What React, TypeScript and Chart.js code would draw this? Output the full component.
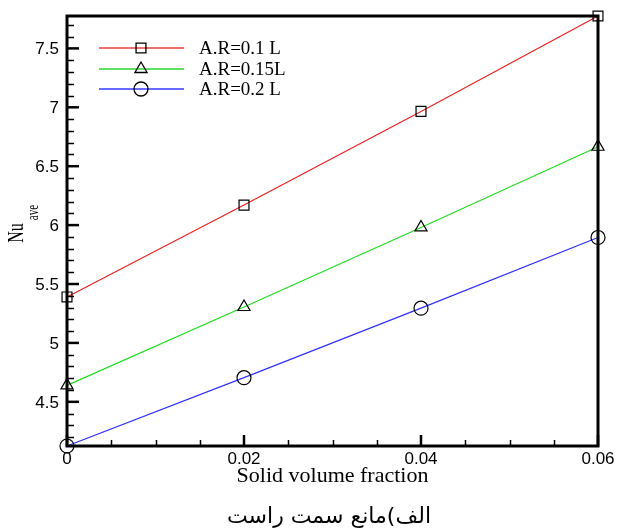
import React, { useEffect, useRef } from "react";
import { Chart, registerables } from "chart.js";

Chart.register(...registerables);

const xValues = [0, 0.02, 0.04, 0.06];
const seriesLabels = ["A.R=0.1 L", "A.R=0.15L", "A.R=0.2 L"];
const ar01 = [5.39, 6.17, 6.965, 7.775];
const ar015 = [4.64, 5.305, 5.98, 6.665];
const ar02 = [4.125, 4.705, 5.295, 5.895];
const seriesColors = ["#ee2020", "#20dd20", "#3030ff"];
const legendColors = ["#f07070", "#60e060", "#6a6aff"];
const seriesMarkers = ["rect", "triangle", "circle"];
const yMajorTicks = [4.5, 5, 5.5, 6, 6.5, 7, 7.5];
const yTickLabels = ["4.5", "5", "5.5", "6", "6.5", "7", "7.5"];
const xMajorTicks = [0, 0.02, 0.04, 0.06];
const xTickLabels = ["0", "0.02", "0.04", "0.06"];
const xTitle = "Solid volume fraction";
const yTitle = "Nu";
const yTitleSub = "ave";
const caption = "الف)مانع سمت راست";

const Y_MIN = 4.125;
const Y_MAX = 7.775;

function drawMarker(ctx: CanvasRenderingContext2D, style: string, x: number, y: number, r: number) {
  ctx.beginPath();
  if (style === "rect") {
    const s = Math.SQRT1_2 * r;
    ctx.rect(x - s, y - s, 2 * s, 2 * s);
  } else if (style === "triangle") {
    ctx.moveTo(x, y - r);
    ctx.lineTo(x + r * Math.cos(Math.PI / 6), y + r / 2);
    ctx.lineTo(x - r * Math.cos(Math.PI / 6), y + r / 2);
    ctx.closePath();
  } else {
    ctx.arc(x, y, r, 0, Math.PI * 2);
  }
  ctx.stroke();
}

const framePlugin = {
  id: "framePlugin",
  afterDraw(chart: any) {
    const ctx: CanvasRenderingContext2D = chart.ctx;
    const { left, right, top, bottom } = chart.chartArea;
    const xs = chart.scales.x;
    const ys = chart.scales.y;
    ctx.save();
    ctx.strokeStyle = "#000";
    // minor ticks y
    ctx.lineWidth = 1.5;
    for (let v = 4.2; v < Y_MAX; v += 0.1) {
      const vv = Math.round(v * 10) / 10;
      if (Math.abs(vv * 2 - Math.round(vv * 2)) < 1e-6) continue;
      const py = Math.round(ys.getPixelForValue(vv)) + 0.5;
      ctx.beginPath();
      ctx.moveTo(left, py);
      ctx.lineTo(left + 7, py);
      ctx.stroke();
    }
    // minor ticks x
    for (let i = 1; i < 12; i++) {
      if (i % 4 === 0) continue;
      const px = Math.round(xs.getPixelForValue(i * 0.005)) + 0.5;
      ctx.beginPath();
      ctx.moveTo(px, bottom);
      ctx.lineTo(px, bottom - 6);
      ctx.stroke();
    }
    // major ticks
    ctx.lineWidth = 2.5;
    yMajorTicks.forEach((v) => {
      const py = ys.getPixelForValue(v);
      ctx.beginPath();
      ctx.moveTo(left, py);
      ctx.lineTo(left + 12, py);
      ctx.stroke();
    });
    xMajorTicks.forEach((v) => {
      const px = xs.getPixelForValue(v);
      ctx.beginPath();
      ctx.moveTo(px, bottom);
      ctx.lineTo(px, bottom - 11);
      ctx.stroke();
    });
    // frame
    ctx.lineWidth = 3;
    ctx.strokeRect(left, top, right - left, bottom - top);

    // tick labels
    ctx.fillStyle = "#000";
    ctx.font = "17px 'Liberation Sans', Arial, sans-serif";
    ctx.textAlign = "right";
    ctx.textBaseline = "middle";
    yMajorTicks.forEach((v, i) => {
      ctx.fillText(yTickLabels[i], left - 8, ys.getPixelForValue(v) + 1);
    });
    ctx.textAlign = "center";
    ctx.textBaseline = "top";
    xMajorTicks.forEach((v, i) => {
      ctx.fillText(xTickLabels[i], xs.getPixelForValue(v), bottom + 5);
    });

    // x title
    ctx.font = "22px 'Liberation Serif', 'Times New Roman', serif";
    ctx.textBaseline = "middle";
    ctx.fillText(xTitle, (left + right) / 2, bottom + 30);

    // y title
    ctx.save();
    ctx.translate(17, 233);
    ctx.rotate(-Math.PI / 2);
    ctx.scale(1, 1.5);
    ctx.textAlign = "center";
    ctx.textBaseline = "middle";
    ctx.font = "16px 'Liberation Serif', 'Times New Roman', serif";
    ctx.fillText(yTitle, 0, 0);
    const w = ctx.measureText(yTitle).width;
    ctx.font = "11px 'Liberation Serif', 'Times New Roman', serif";
    ctx.textAlign = "left";
    ctx.fillText(yTitleSub, w / 2 + 3, 11);
    ctx.restore();

    // caption
    ctx.font = "22px 'DejaVu Sans', 'Noto Sans', serif";
    ctx.textAlign = "center";
    ctx.textBaseline = "middle";
    ctx.direction = "rtl";
    ctx.fillText(caption, 329, 517);
    ctx.direction = "ltr";

    // legend
    const legendY = [48, 69, 89];
    chart.data.datasets.forEach((ds: any, i: number) => {
      const y = legendY[i];
      ctx.strokeStyle = legendColors[i];
      ctx.lineWidth = 2;
      ctx.beginPath();
      ctx.moveTo(99, y);
      ctx.lineTo(184, y);
      ctx.stroke();
      ctx.strokeStyle = "#000";
      ctx.lineWidth = 1.3;
      drawMarker(ctx, ds.pointStyle, 141, y, 7);
      ctx.fillStyle = "#000";
      ctx.font = "19px 'Liberation Serif', 'Times New Roman', serif";
      ctx.textAlign = "left";
      ctx.textBaseline = "middle";
      ctx.fillText(ds.label, 199, y + 1);
    });
    ctx.restore();
  },
};

export default function App() {
  const ref = useRef<HTMLCanvasElement | null>(null);
  useEffect(() => {
    if (!ref.current) return;
    const allSeries = [ar01, ar015, ar02];
    const chart = new Chart(ref.current, {
      type: "line",
      data: {
        datasets: allSeries.map((vals, i) => ({
          label: seriesLabels[i],
          data: xValues.map((x, j) => ({ x, y: vals[j] })),
          borderColor: seriesColors[i],
          borderWidth: 1.2,
          pointStyle: seriesMarkers[i] as any,
          pointRadius: 7,
          pointBorderColor: "#000",
          pointBorderWidth: 1.2,
          pointBackgroundColor: "rgba(0,0,0,0)",
          tension: 0,
          clip: false as any,
          fill: false,
        })),
      },
      options: {
        responsive: false,
        animation: false,
        layout: { padding: { left: 67, right: 21, top: 16, bottom: 86 } },
        plugins: { legend: { display: false }, tooltip: { enabled: false } },
        scales: {
          x: { type: "linear", min: 0, max: 0.06, display: false },
          y: { type: "linear", min: Y_MIN, max: Y_MAX, display: false },
        },
      },
      plugins: [framePlugin],
    });
    return () => chart.destroy();
  }, []);
  return (
    <div style={{ position: "fixed", left: 0, top: 0, width: 619, height: 532, background: "#fff" }}>
      <canvas ref={ref} width={619} height={532} style={{ display: "block" }} />
    </div>
  );
}
